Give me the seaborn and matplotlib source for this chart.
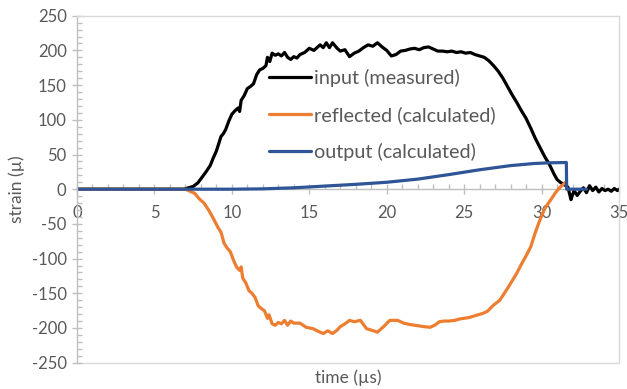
import matplotlib
matplotlib.use("Agg")
import matplotlib.pyplot as plt
from matplotlib.ticker import MultipleLocator
import seaborn as sns
import pandas as pd
import numpy as np

input_t = [0, 6.9, 7.2, 7.5, 7.8, 8.0, 8.3, 8.6, 8.8, 9.0, 9.1, 9.3, 9.45, 9.6, 9.8, 10.0, 10.2, 10.4,
           10.5, 10.6, 10.8, 11.0, 11.2, 11.4, 11.6, 11.8, 12.0, 12.2, 12.3, 12.45, 12.6, 12.8, 13.0, 13.2,
           13.4, 13.6, 13.8, 14.0, 14.2, 14.4, 14.7, 15.0, 15.3, 15.7, 15.9, 16.1, 16.3, 16.5, 16.8, 17.0,
           17.3, 17.6, 17.9, 18.2, 18.5, 18.8, 19.1, 19.4, 19.7, 20.0, 20.3, 20.6, 20.9, 21.2, 21.5, 21.8,
           22.1, 22.4, 22.7, 23.0, 23.3, 23.6, 23.9, 24.2, 24.5, 24.8, 25.1, 25.4, 25.7, 26.0, 26.3, 26.6,
           26.9, 27.2, 27.5, 27.8, 28.1, 28.4, 28.7, 29.0, 29.3, 29.6, 29.9, 30.2, 30.5, 30.8, 31.0, 31.2,
           31.5, 31.7, 31.9, 32.0, 32.1, 32.3, 32.5, 32.7, 32.9, 33.1, 33.3, 33.5, 33.7, 33.9, 34.1, 34.3,
           34.5, 34.7, 34.9, 35.0]
input_v = [0, 0, 2, 4, 9, 15, 24, 34, 45, 55, 62, 76, 80, 86, 98, 108, 113, 117,
           112, 128, 135, 145, 148, 152, 165, 172, 174, 178, 190, 184, 196, 193, 195, 192,
           197, 190, 187, 191, 189, 194, 197, 203, 200, 208, 204, 211, 204, 211, 203, 199,
           201, 191, 196, 199, 204, 208, 206, 211, 205, 200, 192, 194, 199, 200, 202, 203,
           201, 204, 205, 202, 199, 199, 198, 199, 197, 198, 196, 197, 194, 192, 190, 185,
           178, 170, 160, 148, 136, 125, 113, 102, 88, 73, 60, 47, 36, 22, 14, 10,
           6, 3, -15, -8, -2, -9, -3, 2, -5, 5, -2, 3, -4, 1, -2, 0,
           -3, 1, -2, 0]

refl_t = [0, 7.0, 7.3, 7.6, 7.9, 8.2, 8.5, 8.8, 9.1, 9.3, 9.5, 9.7, 9.9, 10.1, 10.3, 10.5, 10.6, 10.7,
          10.9, 11.1, 11.3, 11.5, 11.7, 11.9, 12.1, 12.3, 12.4, 12.6, 12.8, 13.0, 13.2, 13.4, 13.6, 13.8,
          14.0, 14.4, 14.8, 15.25, 15.6, 15.9, 16.2, 16.5, 16.8, 17.0, 17.3, 17.6, 17.9, 18.3, 18.7, 19.0,
          19.4, 19.8, 20.2, 20.7, 21.1, 21.5, 21.8, 22.1, 22.4, 22.8, 23.1, 23.4, 23.7, 24.0, 24.4, 24.7,
          25.0, 25.3, 25.6, 25.9, 26.2, 26.5, 26.9, 27.3, 27.8, 28.1, 28.4, 28.7, 29.0, 29.3, 29.6, 29.9,
          30.2, 30.6, 30.9, 31.2, 31.55]
refl_v = [0, 0, -3, -6, -14, -20, -30, -42, -55, -62, -78, -85, -90, -102, -112, -117, -112, -128,
          -135, -146, -150, -156, -168, -172, -175, -186, -181, -194, -196, -192, -194, -189, -196, -190,
          -193, -193, -199, -201, -205, -208, -204, -208, -203, -198, -194, -189, -191, -189, -201, -203,
          -206, -198, -189, -189, -193, -195, -196, -197, -198, -199, -196, -191, -190, -190, -189, -187,
          -186, -185, -183, -181, -179, -176, -167, -160, -143, -132, -121, -108, -96, -83, -62, -44,
          -28, -15, -5, 3, 10]

out_t = [0, 10, 12, 14, 16, 18, 20, 22, 24, 26, 28, 29.5, 30.5, 31.6, 31.62, 32.9]
out_v = [0, 0, 0.5, 2, 4.5, 7, 10, 14.5, 21, 28, 34, 37, 38, 38.5, 0, 0]

labels = ["input (measured)", "reflected (calculated)", "output (calculated)"]
colors = ["#000000", "#ED7D31", "#2F5597"]

df = pd.concat([
    pd.DataFrame({"t": input_t, "v": input_v, "series": labels[0]}),
    pd.DataFrame({"t": refl_t, "v": refl_v, "series": labels[1]}),
    pd.DataFrame({"t": out_t, "v": out_v, "series": labels[2]}),
], ignore_index=True)

sns.set_theme(style="white")
plt.rcParams["font.family"] = ["Lato", "DejaVu Sans"]
plt.rcParams["axes.unicode_minus"] = False

fig = plt.figure(figsize=(6.27, 3.89), dpi=100)
ax = fig.add_axes([77 / 627, 1 - 362.7 / 389, 542 / 627, 347 / 389])

sns.lineplot(data=df, x="t", y="v", hue="series", hue_order=labels,
             palette=dict(zip(labels, colors)), sort=False, estimator=None,
             linewidth=2.3, ax=ax)

ax.set_xlim(0, 35)
ax.set_ylim(-250, 250)

border = "#D9D9D9"
axis_c = "#BFBFBF"
tick_c = "#595959"
for s in ["top", "right", "left"]:
    ax.spines[s].set_color(border if s != "left" else axis_c)
    ax.spines[s].set_linewidth(1.0)
ax.spines["bottom"].set_position(("data", 0))
ax.spines["bottom"].set_color(axis_c)
ax.spines["bottom"].set_linewidth(1.0)
ax.spines["bottom"].set_zorder(0.5)
ax.axhline(-250, color=border, lw=1.0, clip_on=False, zorder=0.5)

ax.xaxis.set_major_locator(MultipleLocator(5))
ax.xaxis.set_minor_locator(MultipleLocator(1))
ax.yaxis.set_major_locator(MultipleLocator(50))
ax.yaxis.set_minor_locator(MultipleLocator(10))

ax.tick_params(axis="both", which="major", direction="inout", length=7, width=1,
               color=axis_c, labelcolor=tick_c, labelsize=12)
ax.tick_params(axis="both", which="minor", direction="in", length=3.5, width=1,
               color=axis_c)
ax.tick_params(axis="x", which="major", pad=8, bottom=True)
ax.tick_params(axis="y", which="both", left=True, pad=4)
ax.tick_params(axis="x", which="minor", bottom=True)

ax.set_xlabel("time (µs)", color=tick_c, fontsize=12.5)
ax.xaxis.set_label_coords(0.5, -0.018)
ax.set_ylabel("strain (µ)", color=tick_c, fontsize=12.5, labelpad=5)

handles, _ = ax.get_legend_handles_labels()
leg = ax.legend(handles, labels, loc="upper left", bbox_to_anchor=(0.322, 0.897),
                frameon=False, fontsize=14.3, handlelength=2.1, handletextpad=0.16,
                labelspacing=0.95, labelcolor=tick_c)
for ln in leg.get_lines():
    ln.set_linewidth(2.3)

fig.savefig("out.png", dpi=100)
